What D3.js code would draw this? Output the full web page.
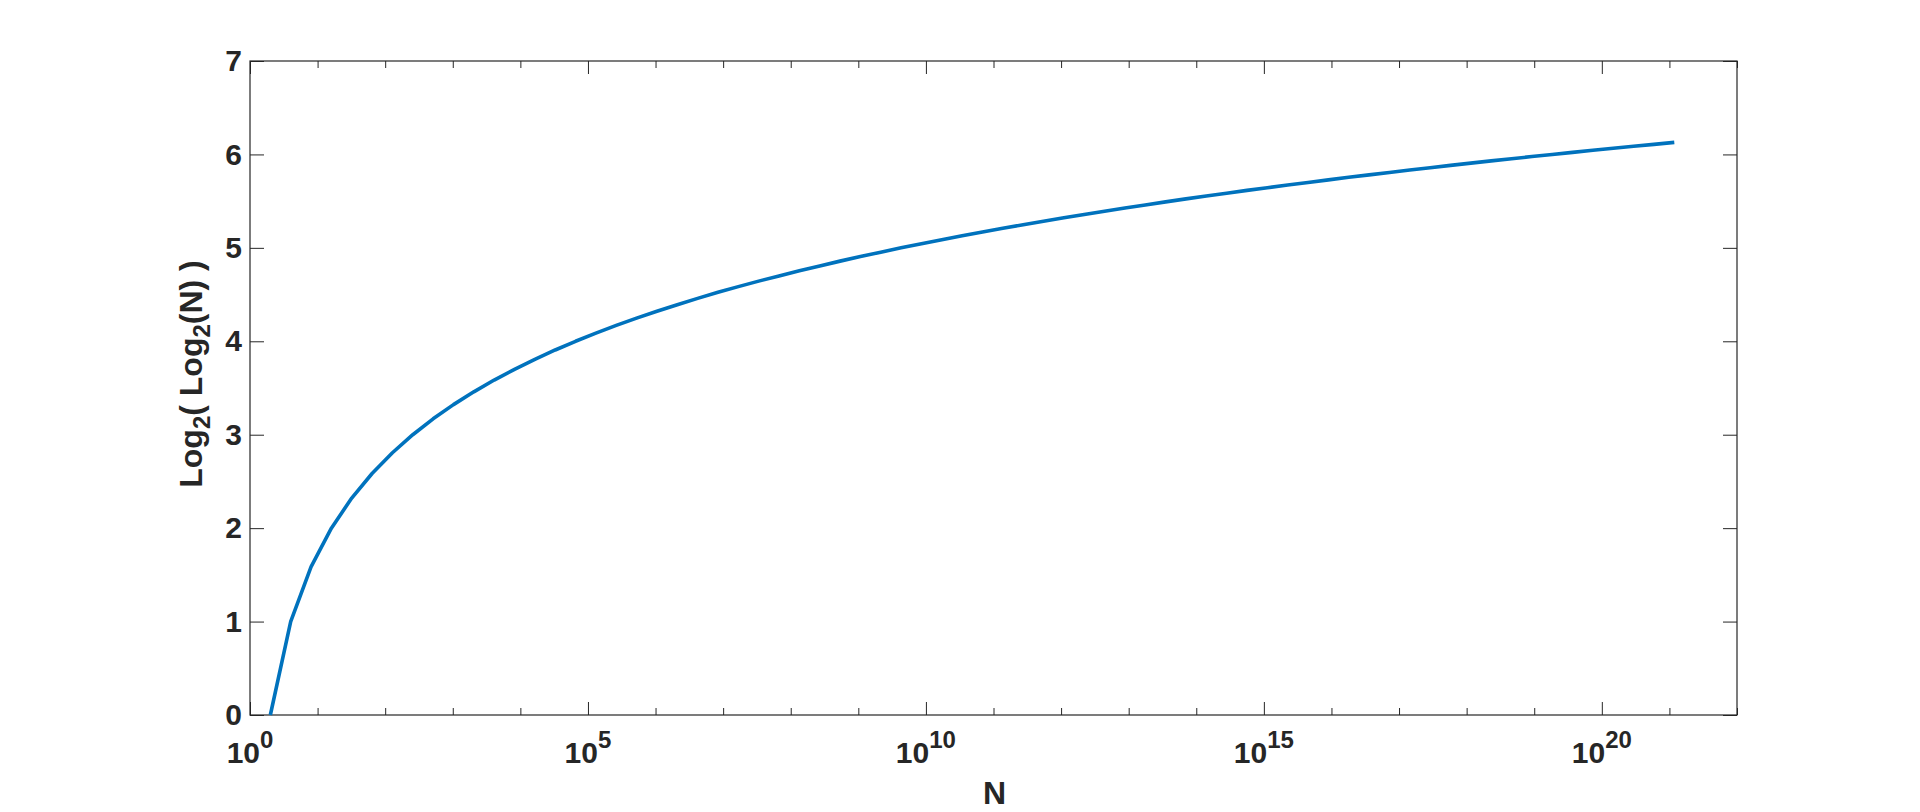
<!DOCTYPE html>
<html>
<head>
<meta charset="utf-8">
<script src="https://cdn.jsdelivr.net/npm/d3@7"></script>
<style>
  html, body { margin: 0; padding: 0; background: #fff; }
  svg { display: block; }
  text { font-family: "Liberation Sans", Arial, Helvetica, sans-serif; font-weight: bold; fill: #262626; }
</style>
</head>
<body>
<svg id="chart" width="1920" height="812"></svg>
<script>
// ---- data ----
const nValues = [
  2, 4, 8, 16, 32, 64, 128, 256, 512, 1024,
  2048, 4096, 8192, 16384, 32768, 65536, 131072, 262144, 524288, 1048576,
  2.097e6, 4.194e6, 8.389e6, 1.678e7, 3.355e7, 6.711e7, 1.342e8, 2.684e8, 5.369e8, 1.074e9,
  2.147e9, 4.295e9, 8.590e9, 1.718e10, 3.436e10, 6.872e10, 1.374e11, 2.749e11, 5.498e11, 1.100e12,
  2.199e12, 4.398e12, 8.796e12, 1.759e13, 3.518e13, 7.037e13, 1.407e14, 2.815e14, 5.629e14, 1.126e15,
  2.252e15, 4.504e15, 9.007e15, 1.801e16, 3.603e16, 7.206e16, 1.441e17, 2.882e17, 5.765e17, 1.153e18,
  2.306e18, 4.612e18, 9.223e18, 1.845e19, 3.689e19, 7.379e19, 1.476e20, 2.951e20, 5.903e20, 1.181e21
];
const yValues = [
  0, 1, 1.585, 2, 2.322, 2.585, 2.807, 3, 3.170, 3.322,
  3.459, 3.585, 3.700, 3.807, 3.907, 4, 4.087, 4.170, 4.248, 4.322,
  4.392, 4.459, 4.524, 4.585, 4.644, 4.700, 4.755, 4.807, 4.858, 4.907,
  4.954, 5, 5.044, 5.087, 5.129, 5.170, 5.209, 5.248, 5.285, 5.322,
  5.358, 5.392, 5.426, 5.459, 5.492, 5.524, 5.555, 5.585, 5.615, 5.644,
  5.672, 5.700, 5.728, 5.755, 5.781, 5.807, 5.833, 5.858, 5.883, 5.907,
  5.931, 5.954, 5.977, 6, 6.022, 6.044, 6.066, 6.087, 6.108, 6.129
];
const xDomain = [1, 1e22];
const yDomain = [0, 7];
const xMajorExponents = [0, 5, 10, 15, 20];
const xMinorExponents = [1,2,3,4,6,7,8,9,11,12,13,14,16,17,18,19,21,22];
const yTicks = [0, 1, 2, 3, 4, 5, 6, 7];
const xLabel = "N";

// ---- layout ----
const L = 250, R = 1737, T = 61, B = 715;
const axisColor = "#262626";
const lineColor = "#0072BD";

const svg = d3.select("#chart");
svg.append("rect").attr("width", 1920).attr("height", 812).attr("fill", "#fff");

const x = d3.scaleLog().domain(xDomain).range([L, R]);
const y = d3.scaleLinear().domain(yDomain).range([B, T]);

const majorVals = xMajorExponents.map(e => Math.pow(10, e));
const minorVals = xMinorExponents.map(e => Math.pow(10, e));

function styleAxis(g) {
  g.select(".domain").remove();
  g.selectAll(".tick line").attr("stroke", axisColor).attr("stroke-width", 1);
}

// bottom major / minor
svg.append("g").attr("transform", `translate(0,${B})`)
  .call(d3.axisBottom(x).tickValues(majorVals).tickSize(-13).tickFormat(""))
  .call(styleAxis);
svg.append("g").attr("transform", `translate(0,${B})`)
  .call(d3.axisBottom(x).tickValues(minorVals).tickSize(-7).tickFormat(""))
  .call(styleAxis);
// top major / minor
svg.append("g").attr("transform", `translate(0,${T})`)
  .call(d3.axisTop(x).tickValues(majorVals).tickSize(-13).tickFormat(""))
  .call(styleAxis);
svg.append("g").attr("transform", `translate(0,${T})`)
  .call(d3.axisTop(x).tickValues(minorVals).tickSize(-7).tickFormat(""))
  .call(styleAxis);
// left
const gl = svg.append("g").attr("transform", `translate(${L},0)`)
  .call(d3.axisLeft(y).tickValues(yTicks).tickSize(-14).tickPadding(8).tickFormat(d3.format("d")))
  .call(styleAxis);
gl.selectAll(".tick text").attr("font-size", 30).attr("fill", axisColor)
  .style("font-family", "'Liberation Sans', Arial, sans-serif").style("font-weight", "bold");
// right
svg.append("g").attr("transform", `translate(${R},0)`)
  .call(d3.axisRight(y).tickValues(yTicks).tickSize(-14).tickFormat(""))
  .call(styleAxis);

// x tick labels 10^e
const xl = svg.append("g");
xMajorExponents.forEach(e => {
  const t = xl.append("text")
    .attr("x", x(Math.pow(10, e)))
    .attr("y", 763)
    .attr("text-anchor", "middle")
    .attr("font-size", 30);
  t.append("tspan").text("10");
  t.append("tspan").attr("font-size", 24).attr("dy", -15).text(String(e));
});

// frame
svg.append("rect")
  .attr("x", L).attr("y", T).attr("width", R - L).attr("height", B - T)
  .attr("fill", "none").attr("stroke", axisColor).attr("stroke-width", 1.2);

// line
const pts = nValues.map((n, i) => [n, yValues[i]]);
svg.append("path")
  .datum(pts)
  .attr("fill", "none")
  .attr("stroke", lineColor)
  .attr("stroke-width", 3.6)
  .attr("stroke-linejoin", "round")
  .attr("d", d3.line().x(d => x(d[0])).y(d => y(d[1])));

// x label
svg.append("text")
  .attr("x", (L + R) / 2 + 1)
  .attr("y", 804)
  .attr("text-anchor", "middle")
  .attr("font-size", 32)
  .text(xLabel);

// y label
const yl = svg.append("text")
  .attr("transform", `translate(202,${374}) rotate(-90)`)
  .attr("text-anchor", "middle")
  .attr("font-size", 32);
yl.append("tspan").text("Log");
yl.append("tspan").attr("font-size", 24).attr("dy", 8).text("2");
yl.append("tspan").attr("dy", -8).text("( Log");
yl.append("tspan").attr("font-size", 24).attr("dy", 8).text("2");
yl.append("tspan").attr("dy", -8).text("(N) )");
</script>
</body>
</html>
